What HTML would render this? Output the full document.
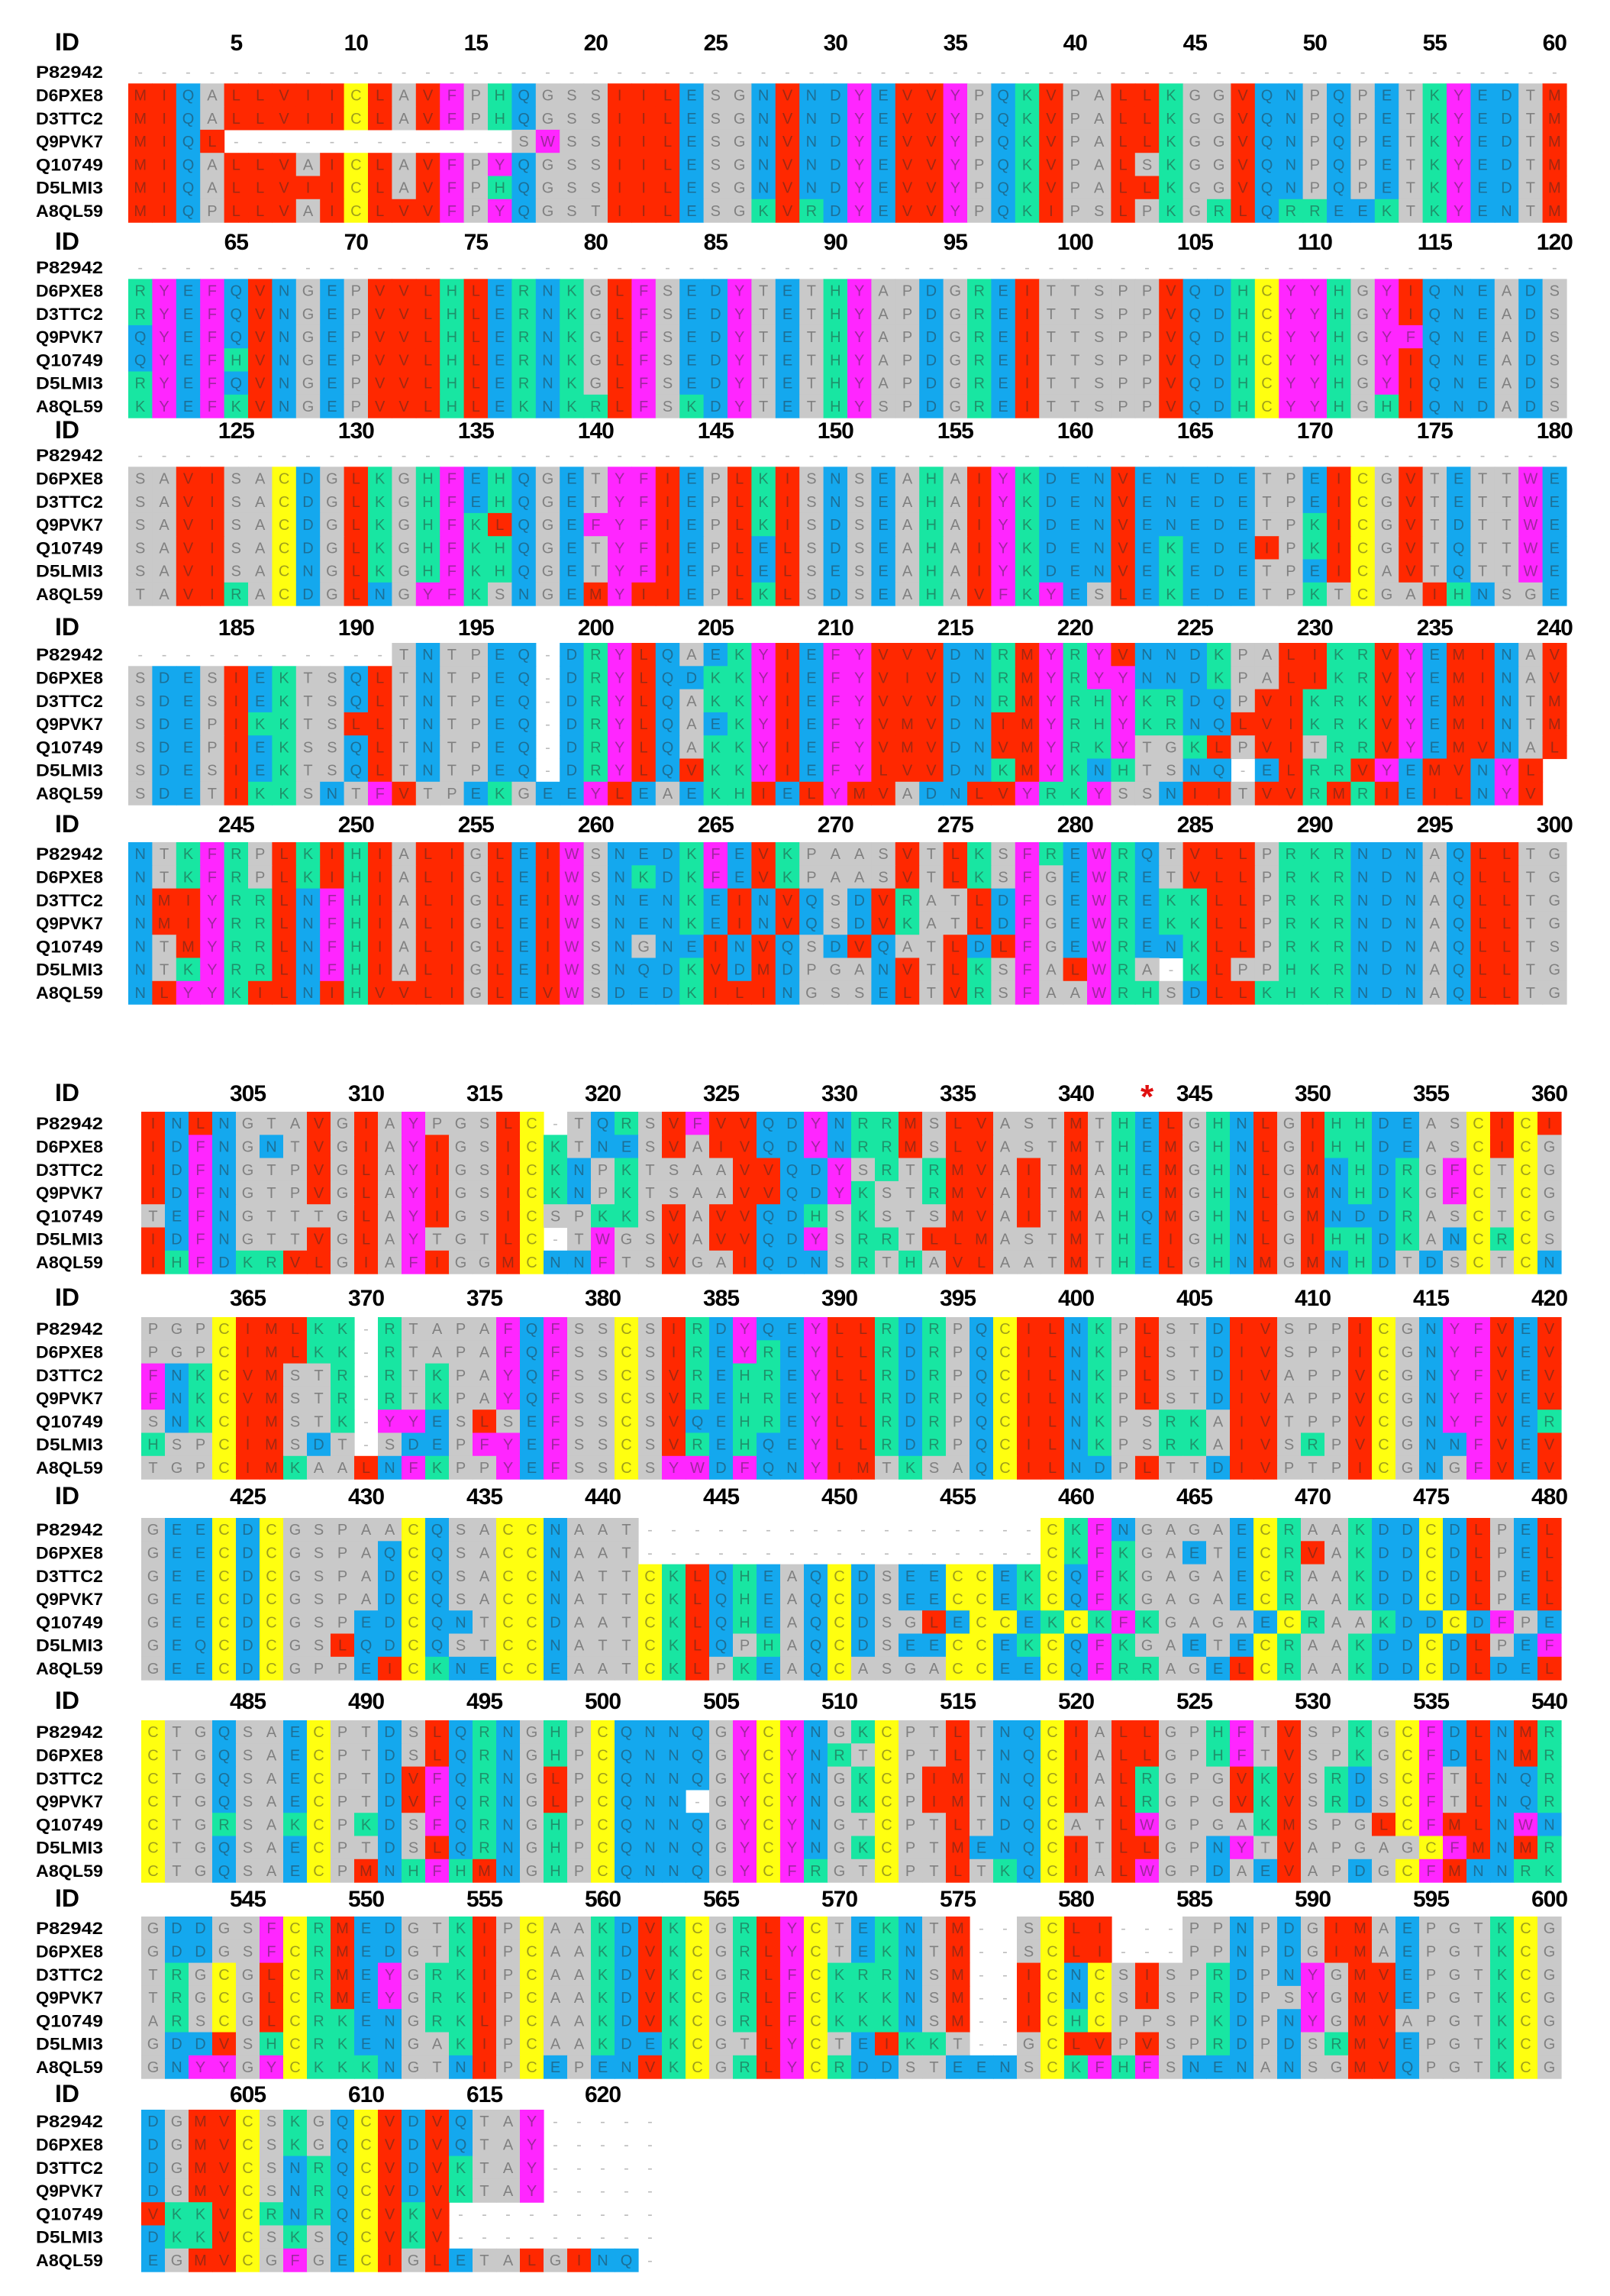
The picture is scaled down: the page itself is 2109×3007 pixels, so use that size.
<!DOCTYPE html>
<html><head><meta charset="utf-8">
<style>
html,body{margin:0;padding:0;background:#fff;}
svg{display:block;}
</style></head>
<body>
<svg id="msa" width="2109" height="3007" viewBox="0 0 2109 3007" xmlns="http://www.w3.org/2000/svg"></svg>
<script>
const ids = ["P82942","D6PXE8","D3TTC2","Q9PVK7","Q10749","D5LMI3","A8QL59"];
const blockStarts = [1,61,121,181,241,301,361,421,481,541,601];
const blockTops = [79,335,581,842,1103,1456,1725,1988,2253,2510,2763];
const headerY = [55,316,563,821,1079,1431,1699,1959,2227,2486,2742];
const conservedMarks = [343];
const blocks = [
["------------------------------------------------------------",
"MIQALLVIICLAVFPHQGSSIILESGNVNDYEVVYPQKVPALLKGGVQNPQPETKYEDTM",
"MIQALLVIICLAVFPHQGSSIILESGNVNDYEVVYPQKVPALLKGGVQNPQPETKYEDTM",
"MIQL------------SWSSIILESGNVNDYEVVYPQKVPALLKGGVQNPQPETKYEDTM",
"MIQALLVAICLAVFPYQGSSIILESGNVNDYEVVYPQKVPALSKGGVQNPQPETKYEDTM",
"MIQALLVIICLAVFPHQGSSIILESGNVNDYEVVYPQKVPALLKGGVQNPQPETKYEDTM",
"MIQPLLVAICLVVFPYQGSTIILESGKVRDYEVVYPQKIPSLPKGRLQRREEKTKYENTM"],
["------------------------------------------------------------",
"RYEFQVNGEPVVLHLERNKGLFSEDYTETHYAPDGREITTSPPVQDHCYYHGYIQNEADS",
"RYEFQVNGEPVVLHLERNKGLFSEDYTETHYAPDGREITTSPPVQDHCYYHGYIQNEADS",
"QYEFQVNGEPVVLHLERNKGLFSEDYTETHYAPDGREITTSPPVQDHCYYHGYFQNEADS",
"QYEFHVNGEPVVLHLERNKGLFSEDYTETHYAPDGREITTSPPVQDHCYYHGYIQNEADS",
"RYEFQVNGEPVVLHLERNKGLFSEDYTETHYAPDGREITTSPPVQDHCYYHGYIQNEADS",
"KYEFKVNGEPVVLHLEKNKRLFSKDYTETHYSPDGREITTSPPVQDHCYYHGHIQNDADS"],
["------------------------------------------------------------",
"SAVISACDGLKGHFEHQGETYFIEPLKISNSEAHAIYKDENVENEDETPEICGVTETTWE",
"SAVISACDGLKGHFEHQGETYFIEPLKISNSEAHAIYKDENVENEDETPEICGVTETTWE",
"SAVISACDGLKGHFKLQGEFYFIEPLKISDSEAHAIYKDENVENEDETPKICGVTDTTWE",
"SAVISACDGLKGHFKHQGETYFIEPLELSDSEAHAIYKDENVEKEDEIPKICGVTQTTWE",
"SAVISACNGLKGHFKHQGETYFIEPLELSESEAHAIYKDENVEKEDETPEICAVTQTTWE",
"TAVIRACDGLNGYFKSNGEMYIIEPLKLSDSEAHAVFKYESLEKEDETPKTCGAIHNSGE"],
["-----------TNTPEQ-DRYLQAEKYIEFYVVVDNRMYRYVNNDKPALIKRVYEMINAV",
"SDESIEKTSQLTNTPEQ-DRYLQDKKYIEFYVIVDNRMYRYYNNDKPALIKRVYEMINAV",
"SDESIEKTSQLTNTPEQ-DRYLQAKKYIEFYVVVDNRMYRHYKRDQPVIKRKVYEMINTM",
"SDEPIKKTSLLTNTPEQ-DRYLQAEKYIEFYVMVDNIMYRHYKRNQLVIKRKVYEMINTM",
"SDEPIEKSSQLTNTPEQ-DRYLQAKKYIEFYVMVDNVMYRKYTGKLPVITRRVYEMVNAL",
"SDESIEKTSQLTNTPEQ-DRYLQVKKYIEFYLVVDNKMYKNHTSNQ-ELRRVYEMVNYL",
"SDETIKKSNTFVTPEKGEEYLEAEKHIELYMVADNLVYRKYSSNIITVVRMRIEILNYV"],
["NTKFRPLKIHIALIGLEIWSNEDKFEVKPAASVTLKSFREWRQTVLLPRKRNDNAQLLTG",
"NTKFRPLKIHIALIGLEIWSNKDKFEVKPAASVTLKSFGEWRETVLLPRKRNDNAQLLTG",
"NMIYRRLNFHIALIGLEIWSNENKEINVQSDVRATLDFGEWREKKLLPRKRNDNAQLLTG",
"NMIYRRLNFHIALIGLEIWSNENKEINVQSDVKATLDFGEWREKKLLPRKRNDNAQLLTG",
"NTMYRRLNFHIALIGLEIWSNGNEINVQSDVQATLDLFGEWRENKLLPRKRNDNAQLLTS",
"NTKYRRLNFHIALIGLEIWSNQDKVDMDPGANVTLKSFALWRA-KLPPHKRNDNAQLLTG",
"NLYYKILNIHVVLIGLEVWSDEDKILINGSSELTVRSFAAWRHSDLLKHKRNDNAQLLTG"],
["INLNGTAVGIAYPGSLC-TQRSVFVVQDYNRRMSLVASTMTHELGHNLGIHHDEASCICI",
"IDFNGNTVGIAYIGSICKTNESVAIVQDYNRRMSLVASTMTHEMGHNLGIHHDEASCICG",
"IDFNGTPVGLAYIGSICKNPKTSAAVVQDYSRTRMVAITMAHEMGHNLGMNHDRGFCTCG",
"IDFNGTPVGLAYIGSICKNPKTSAAVVQDYKSTRMVAITMAHEMGHNLGMNHDKGFCTCG",
"TEFNGTTTGLAYIGSICSPKKSVAVVQDHSKSTSMVAITMAHQMGHNLGMNDDRASCTCG",
"IDFNGTTVGLAYTGTLC-TWGSVAVVQDYSRRTLLMASTMTHEIGHNLGIHHDKANCRCS",
"IHFDKRVLGIAFIGGMCNNFTSVGAIQDNSRTHAVLAATMTHELGHNMGMNHDTDSCTCN"],
["PGPCIMLKK-RTAPAFQFSSCSIRDYQEYLLRDRPQCILNKPLSTDIVSPPICGNYFVEV",
"PGPCIMLKK-RTAPAFQFSSCSIREYREYLLRDRPQCILNKPLSTDIVSPPICGNYFVEV",
"FNKCVMSTR-RTKPAYQFSSCSVREHREYLLRDRPQCILNKPLSTDIVAPPVCGNYFVEV",
"FNKCVMSTR-RTKPAYQFSSCSVREHREYLLRDRPQCILNKPLSTDIVAPPVCGNYFVEV",
"SNKCIMSTK-YYESLSEFSSCSVQEHREYLLRDRPQCILNKPSRKAIVTPPVCGNYFVER",
"HSPCIMSDT-SDEPFYEFSSCSVREHQEYLLRDRPQCILNKPSRKAIVSRPVCGNNFVEV",
"TGPCIMKAALNFKPPYEFSSCSYWDFQNYIMTKSAQCILNDPLTTDIVPTPICGNGFVEV"],
["GEECDCGSPAACQSACCNAAT-----------------CKFNGAGAECRAAKDDCDLPEL",
"GEECDCGSPAQCQSACCNAAT-----------------CKFKGAETECRVAKDDCDLPEL",
"GEECDCGSPADCQSACCNATTCKLQHEAQCDSEECCEKCQFKGAGAECRAAKDDCDLPEL",
"GEECDCGSPADCQSACCNATTCKLQHEAQCDSEECCEKCQFKGAGAECRAAKDDCDLPEL",
"GEECDCGSPEDCQNTCCDAATCKLQHEAQCDSGLECCEKCKFKGAGAECRAAKDDCDFPE",
"GEQCDCGSLQDCQSTCCNATTCKLQPHAQCDSEECCEKCQFKGAETECRAAKDDCDLPEF",
"GEECDCGPPEICKNECCEAATCKLPKEAQCASGACCEECQFRRAGELCRAAKDDCDLDEL"],
["CTGQSAECPTDSLQRNGHPCQNNQGYCYNGKCPTLTNQCIALLGPHFTVSPKGCFDLNMR",
"CTGQSAECPTDSLQRNGHPCQNNQGYCYNRTCPTLTNQCIALLGPHFTVSPKGCFDLNMR",
"CTGQSAECPTDVFQRNGLPCQNNQGYCYNGKCPIMTNQCIALRGPGVKVSRDSCFTLNQR",
"CTGQSAECPTDVFQRNGLPCQNN-GYCYNGKCPIMTNQCIALRGPGVKVSRDSCFTLNQR",
"CTGRSAKCPKDSFQRNGHPCQNNQGYCYNGTCPTLTDQCATLWGPGAKMSPGLCFMLNWN",
"CTGQSAECPTDSLQRNGHPCQNNQGYCYNGKCPTMENQCITLLGPNYTVAPGAGCFMNMR",
"CTGQSAECPMNHFHMNGHPCQNNQGYCFRGTCPTLTKQCIALWGPDAEVAPDGCFMNNRK"],
["GDDGSFCRMEDGTKIPCAAKDVKCGRLYCTEKNTM--SCLI---PPNPDGIMAEPGTKCG",
"GDDGSFCRMEDGTKIPCAAKDVKCGRLYCTEKNTM--SCLI---PPNPDGIMAEPGTKCG",
"TRGCGLCRMEYGRKIPCAAKDVKCGRLFCKRRNSM--ICNCSISPRDPNYGMVEPGTKCG",
"TRGCGLCRMEYGRKIPCAAKDVKCGRLFCKKKNSM--ICNCSISPRDPSYGMVEPGTKCG",
"ARSCGLCRKENGRKLPCAAKDVKCGRLFCKKKNSM--ICHCPPSPKDPNYGMVAPGTKCG",
"GDDVSHCRKENGAKIPCAAKDEKCGTLYCTEIKKT--GCLVPVSPRDPDSRMVEPGTKCG",
"GNYYGYCKKKNGTNIPCEPENVKCGRLYCRDDSTEENSCKFHFSNENANSGMVQPGTKCG"],
["DGMVCSKGQCVDVQTAY-----",
"DGMVCSKGQCVDVQTAY-----",
"DGMVCSNRQCVDVKTAY-----",
"DGMVCSNRQCVDVKTAY-----",
"VKKVCRNRQCVKV---------",
"DKKVCSKSQCVKV---------",
"EGMVCGFGECIGLETALGINQ-"]
];

const NS = "http://www.w3.org/2000/svg";
const svg = document.getElementById("msa");
function colorOf(c){
  if ("ILVM".includes(c)) return "#ff2800";
  if ("FWY".includes(c)) return "#ff26ff";
  if (c === "C") return "#ffff10";
  if ("DENQ".includes(c)) return "#14a8ee";
  if ("KRH".includes(c)) return "#18e6a2";
  if (c === "-") return null;
  return "#c9c9c9";
}
function mk(tag, attrs){
  const e = document.createElementNS(NS, tag);
  for (const k in attrs) e.setAttribute(k, attrs[k]);
  return e;
}
function colX(b, i){ return (b < 5 ? 168 : 185) + i * (b < 5 ? 31.4 : 31.0); }
const cw = b => (b < 5 ? 31.4 : 31.0);
const rowH = 30.3;

blocks.forEach((rows, b) => {
  const g = mk("g", {});
  
  
  svg.appendChild(g);
  const idH = mk("text", {x: 88, y: headerY[b] + 11, "font-family": "Liberation Sans, sans-serif", "font-weight": "bold", "font-size": 32, "text-anchor": "middle", fill: "#000"});
  
  
  idH.textContent = "ID";
  g.appendChild(idH);
  const ncol = rows[0].length;
  for (let i = 0; i < ncol; i++) {
    const pos = blockStarts[b] + i;
    if (pos % 5 === 0) {
      const t = mk("text", {x: colX(b, i) + cw(b) / 2, y: headerY[b] + 11, "font-family": "Liberation Sans, sans-serif", "font-weight": "bold", "font-size": 30, "text-anchor": "middle", fill: "#000", "letter-spacing": "-1"});
      
      
      t.textContent = pos;
      g.appendChild(t);
    }
    if (conservedMarks.includes(pos)) {
      const s = mk("text", {x: colX(b, i) + cw(b) / 2, y: headerY[b] + 20, "font-family": "Liberation Sans, sans-serif", "font-weight": "bold", "font-size": 44, "text-anchor": "middle", fill: "#e01010"});
      
      
      s.textContent = "*";
      g.appendChild(s);
    }
  }
  rows.forEach((seq, r) => {
    const y = blockTops[b] + r * rowH;
    const lab = mk("text", {x: 47, y: y + rowH / 2 + 8, "font-family": "Liberation Sans, sans-serif", "font-weight": "bold", "font-size": 22, fill: "#000", textLength: 88, lengthAdjust: "spacingAndGlyphs"});
    
    
    lab.textContent = ids[r];
    g.appendChild(lab);
    for (let i = 0; i < seq.length; i++) {
      const c = seq[i];
      const x = colX(b, i);
      const col = colorOf(c);
      if (col) {
        const rect = mk("rect", {x: x, y: y, width: cw(b) + 0.6, height: rowH + 0.6, fill: col});
        
        
        g.appendChild(rect);
      }
      const t = mk("text", {x: x + cw(b) / 2, y: y + rowH / 2 + 7, "font-family": "Liberation Sans, sans-serif", "font-size": 20, "text-anchor": "middle", fill: col ? "rgba(40,40,40,0.45)" : "#bbbbbb"});
      
      
      t.textContent = c;
      g.appendChild(t);
    }
  });
});
</script>
</body></html>
